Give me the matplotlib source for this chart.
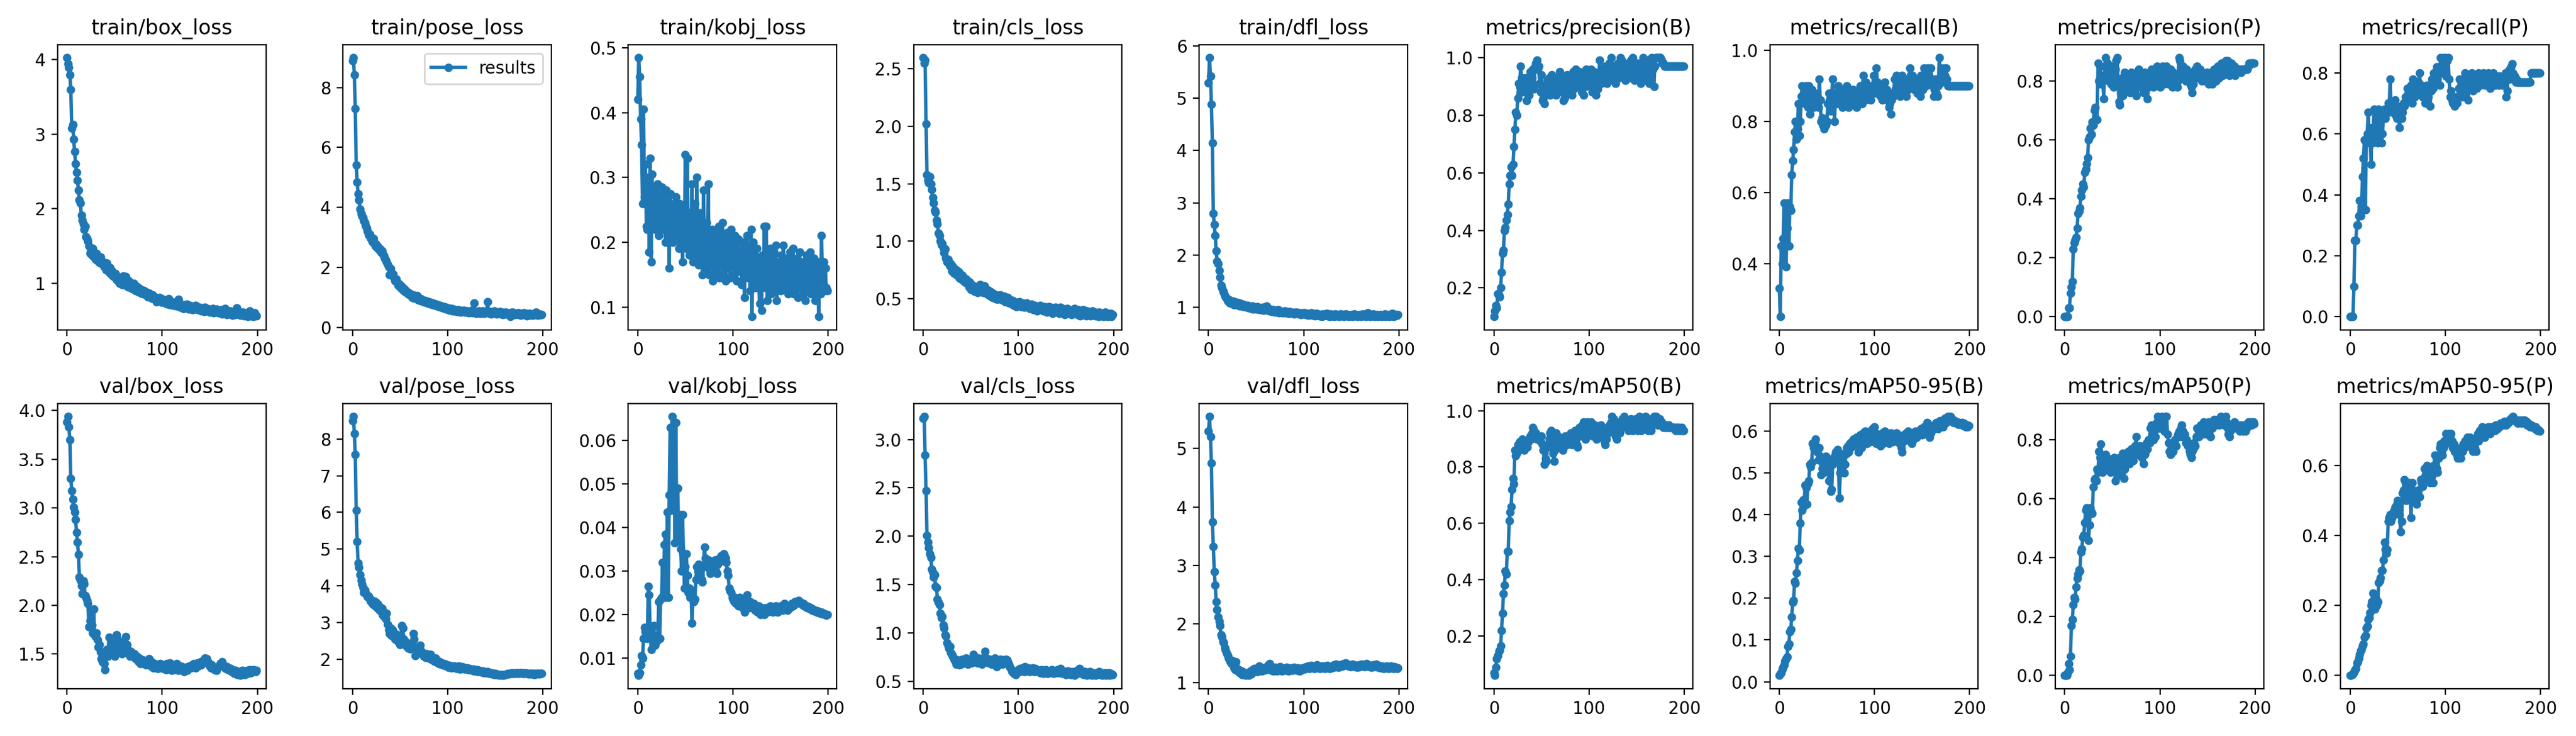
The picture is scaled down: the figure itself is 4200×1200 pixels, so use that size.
import numpy as np
import matplotlib
matplotlib.use("Agg")
import matplotlib.pyplot as plt
from matplotlib.ticker import MultipleLocator

# valores (200 epocas por serie)
train_box_loss = [
    4.03, 3.95, 3.90, 3.80, 3.60, 3.08, 3.13, 2.93, 2.77, 2.60, 2.49, 2.38, 2.25, 2.12, 2.08, 1.91, 1.85, 1.80, 1.72, 1.76,
    1.62, 1.60, 1.57, 1.50, 1.40, 1.43, 1.38, 1.47, 1.35, 1.37, 1.32, 1.40, 1.30, 1.33, 1.28, 1.35, 1.27, 1.25, 1.29, 1.22,
    1.24, 1.18, 1.27, 1.20, 1.15, 1.21, 1.12, 1.17, 1.10, 1.14, 1.08, 1.13, 1.05, 1.09, 1.02, 1.00, 1.07, 1.04, 0.98, 1.10,
    1.02, 0.97, 1.09, 0.99, 0.95, 1.03, 0.96, 0.94, 0.99, 0.92, 1.00, 0.93, 0.90, 0.96, 0.91, 0.88, 0.93, 0.89, 0.87, 0.91,
    0.86, 0.90, 0.85, 0.88, 0.84, 0.82, 0.87, 0.83, 0.85, 0.80, 0.84, 0.79, 0.82, 0.78, 0.75, 0.80, 0.77, 0.81, 0.76, 0.79,
    0.74, 0.78, 0.75, 0.77, 0.73, 0.76, 0.72, 0.79, 0.74, 0.71, 0.75, 0.73, 0.70, 0.74, 0.72, 0.69, 0.73, 0.78, 0.71, 0.68,
    0.72, 0.69, 0.66, 0.71, 0.70, 0.67, 0.72, 0.68, 0.65, 0.70, 0.67, 0.69, 0.64, 0.68, 0.66, 0.70, 0.65, 0.67, 0.64, 0.68,
    0.66, 0.63, 0.67, 0.65, 0.62, 0.68, 0.64, 0.66, 0.63, 0.65, 0.61, 0.64, 0.62, 0.66, 0.60, 0.63, 0.61, 0.65, 0.62, 0.60,
    0.63, 0.61, 0.64, 0.59, 0.62, 0.60, 0.66, 0.61, 0.58, 0.62, 0.60, 0.63, 0.59, 0.61, 0.57, 0.62, 0.60, 0.58, 0.67, 0.60,
    0.59, 0.62, 0.57, 0.60, 0.58, 0.61, 0.56, 0.59, 0.57, 0.60, 0.55, 0.58, 0.63, 0.56, 0.59, 0.57, 0.55, 0.60, 0.57, 0.56]

train_pose_loss = [
    8.90, 9.00, 8.42, 7.30, 5.42, 4.85, 4.45, 4.25, 3.95, 3.80, 3.72, 3.65, 3.55, 3.48, 3.38, 3.30, 3.20, 3.08, 3.10, 2.98,
    2.92, 2.85, 2.95, 2.80, 2.72, 2.78, 2.65, 2.70, 2.58, 2.62, 2.50, 2.55, 2.45, 2.38, 2.30, 2.25, 2.18, 2.10, 2.02, 1.75,
    1.95, 1.80, 1.72, 1.78, 1.62, 1.55, 1.60, 1.48, 1.40, 1.45, 1.35, 1.38, 1.28, 1.32, 1.22, 1.25, 1.18, 1.20, 1.12, 1.15,
    1.08, 1.12, 1.05, 1.00, 1.08, 0.98, 1.03, 0.95, 1.05, 0.92, 0.98, 0.90, 0.95, 0.88, 0.92, 0.85, 0.90, 0.82, 0.87, 0.80,
    0.84, 0.78, 0.82, 0.76, 0.80, 0.74, 0.79, 0.72, 0.77, 0.70, 0.75, 0.68, 0.73, 0.66, 0.71, 0.64, 0.69, 0.62, 0.67, 0.60,
    0.65, 0.58, 0.63, 0.57, 0.62, 0.55, 0.60, 0.54, 0.59, 0.56, 0.52, 0.58, 0.53, 0.57, 0.50, 0.55, 0.52, 0.56, 0.50, 0.54,
    0.51, 0.55, 0.49, 0.53, 0.50, 0.56, 0.48, 0.52, 0.80, 0.50, 0.47, 0.53, 0.49, 0.55, 0.46, 0.52, 0.48, 0.54, 0.47, 0.51,
    0.49, 0.53, 0.86, 0.50, 0.47, 0.52, 0.45, 0.50, 0.48, 0.54, 0.46, 0.51, 0.44, 0.49, 0.47, 0.52, 0.45, 0.50, 0.43, 0.48,
    0.46, 0.51, 0.44, 0.49, 0.42, 0.47, 0.35, 0.45, 0.50, 0.43, 0.48, 0.41, 0.46, 0.44, 0.49, 0.42, 0.47, 0.40, 0.45, 0.43,
    0.48, 0.41, 0.46, 0.38, 0.44, 0.42, 0.47, 0.40, 0.45, 0.43, 0.39, 0.46, 0.41, 0.50, 0.44, 0.40, 0.45, 0.42, 0.43, 0.41]

train_kobj_loss = [
    0.42, 0.485, 0.455, 0.39, 0.35, 0.26, 0.405, 0.27, 0.32, 0.225, 0.22, 0.30, 0.185, 0.33, 0.17, 0.305, 0.24, 0.285, 0.22, 0.27,
    0.235, 0.29, 0.21, 0.265, 0.245, 0.285, 0.22, 0.27, 0.25, 0.20, 0.28, 0.23, 0.26, 0.16, 0.275, 0.215, 0.25, 0.20, 0.26, 0.225,
    0.27, 0.21, 0.245, 0.19, 0.26, 0.20, 0.235, 0.17, 0.25, 0.21, 0.335, 0.19, 0.33, 0.22, 0.18, 0.245, 0.20, 0.29, 0.17, 0.24,
    0.26, 0.18, 0.30, 0.21, 0.165, 0.245, 0.19, 0.225, 0.15, 0.28, 0.20, 0.16, 0.23, 0.175, 0.29, 0.15, 0.21, 0.17, 0.22, 0.14,
    0.20, 0.16, 0.215, 0.15, 0.19, 0.225, 0.145, 0.20, 0.165, 0.23, 0.15, 0.205, 0.14, 0.185, 0.215, 0.16, 0.20, 0.145, 0.22, 0.17,
    0.195, 0.15, 0.21, 0.165, 0.14, 0.185, 0.205, 0.155, 0.18, 0.135, 0.20, 0.17, 0.115, 0.19, 0.16, 0.21, 0.145, 0.18, 0.125, 0.22,
    0.085, 0.20, 0.15, 0.175, 0.13, 0.19, 0.16, 0.14, 0.105, 0.17, 0.095, 0.18, 0.15, 0.225, 0.13, 0.225, 0.11, 0.165, 0.14, 0.19,
    0.12, 0.17, 0.15, 0.185, 0.13, 0.195, 0.11, 0.16, 0.145, 0.17, 0.125, 0.18, 0.15, 0.195, 0.13, 0.165, 0.14, 0.175, 0.12, 0.16,
    0.185, 0.13, 0.155, 0.19, 0.12, 0.165, 0.14, 0.175, 0.115, 0.16, 0.185, 0.13, 0.15, 0.17, 0.12, 0.16, 0.11, 0.18, 0.14, 0.165,
    0.13, 0.185, 0.12, 0.16, 0.14, 0.175, 0.11, 0.155, 0.135, 0.17, 0.085, 0.15, 0.12, 0.21, 0.14, 0.17, 0.125, 0.16, 0.13, 0.125]

train_cls_loss = [
    2.60, 2.55, 2.58, 2.02, 1.58, 1.53, 1.51, 1.56, 1.50, 1.45, 1.38, 1.33, 1.27, 1.25, 1.18, 1.15, 1.07, 1.05, 1.00, 0.97,
    0.98, 0.94, 0.90, 0.93, 0.85, 0.82, 0.84, 0.80, 0.78, 0.80, 0.74, 0.78, 0.72, 0.76, 0.71, 0.75, 0.70, 0.73, 0.68, 0.71,
    0.67, 0.70, 0.66, 0.68, 0.64, 0.67, 0.63, 0.65, 0.60, 0.64, 0.58, 0.62, 0.59, 0.61, 0.56, 0.60, 0.57, 0.55, 0.59, 0.56,
    0.62, 0.57, 0.60, 0.55, 0.61, 0.56, 0.58, 0.54, 0.57, 0.53, 0.56, 0.52, 0.55, 0.51, 0.54, 0.52, 0.50, 0.53, 0.49, 0.52,
    0.50, 0.53, 0.49, 0.51, 0.48, 0.52, 0.47, 0.50, 0.48, 0.51, 0.46, 0.49, 0.47, 0.45, 0.48, 0.44, 0.47, 0.45, 0.43, 0.46,
    0.44, 0.47, 0.45, 0.43, 0.46, 0.44, 0.42, 0.45, 0.43, 0.46, 0.42, 0.44, 0.41, 0.43, 0.45, 0.42, 0.40, 0.44, 0.41, 0.43,
    0.39, 0.43, 0.41, 0.44, 0.40, 0.42, 0.39, 0.43, 0.40, 0.42, 0.38, 0.41, 0.43, 0.39, 0.42, 0.40, 0.37, 0.41, 0.39, 0.42,
    0.38, 0.41, 0.40, 0.37, 0.42, 0.39, 0.41, 0.38, 0.40, 0.36, 0.39, 0.41, 0.38, 0.40, 0.37, 0.39, 0.36, 0.40, 0.38, 0.41,
    0.37, 0.39, 0.36, 0.40, 0.38, 0.35, 0.39, 0.37, 0.40, 0.36, 0.38, 0.35, 0.39, 0.37, 0.36, 0.38, 0.35, 0.37, 0.39, 0.36,
    0.38, 0.35, 0.37, 0.36, 0.34, 0.38, 0.36, 0.35, 0.37, 0.34, 0.36, 0.38, 0.35, 0.37, 0.34, 0.36, 0.35, 0.37, 0.34, 0.36]

train_dfl_loss = [
    5.30, 5.78, 5.42, 4.88, 4.15, 2.80, 2.58, 2.38, 2.08, 1.88, 1.83, 1.70, 1.58, 1.42, 1.38, 1.32, 1.28, 1.22, 1.20, 1.16,
    1.12, 1.15, 1.08, 1.13, 1.10, 1.07, 1.12, 1.05, 1.09, 1.06, 1.10, 1.04, 1.08, 1.03, 1.07, 1.02, 1.06, 1.01, 1.05, 1.03,
    1.00, 1.04, 0.99, 1.03, 1.01, 0.98, 1.02, 0.97, 1.00, 0.99, 0.96, 1.01, 0.97, 0.99, 0.95, 0.98, 0.96, 1.00, 0.94, 0.97,
    0.95, 1.03, 0.94, 0.97, 0.93, 0.96, 0.94, 0.92, 0.95, 0.93, 0.91, 0.94, 0.92, 0.95, 0.90, 0.93, 0.91, 0.89, 0.92, 0.90,
    0.93, 0.89, 0.91, 0.90, 0.88, 0.92, 0.89, 0.91, 0.88, 0.90, 0.87, 0.89, 0.91, 0.88, 0.90, 0.87, 0.89, 0.86, 0.88, 0.90,
    0.87, 0.89, 0.86, 0.88, 0.87, 0.85, 0.88, 0.86, 0.89, 0.85, 0.87, 0.86, 0.84, 0.88, 0.85, 0.87, 0.84, 0.86, 0.85, 0.83,
    0.87, 0.84, 0.86, 0.85, 0.88, 0.84, 0.86, 0.83, 0.87, 0.85, 0.84, 0.86, 0.83, 0.87, 0.85, 0.84, 0.86, 0.83, 0.85, 0.87,
    0.84, 0.86, 0.83, 0.85, 0.87, 0.84, 0.86, 0.83, 0.85, 0.84, 0.86, 0.82, 0.85, 0.87, 0.84, 0.86, 0.83, 0.85, 0.84, 0.86,
    0.83, 0.85, 0.87, 0.84, 0.86, 0.83, 0.85, 0.89, 0.84, 0.86, 0.83, 0.85, 0.84, 0.87, 0.83, 0.85, 0.84, 0.86, 0.83, 0.85,
    0.84, 0.86, 0.83, 0.85, 0.84, 0.87, 0.83, 0.85, 0.84, 0.86, 0.83, 0.85, 0.84, 0.88, 0.83, 0.85, 0.84, 0.86, 0.85, 0.86]

precision_b = [
    0.10, 0.12, 0.14, 0.13, 0.18, 0.175, 0.17, 0.20, 0.255, 0.32, 0.33, 0.40, 0.41, 0.435, 0.455, 0.49, 0.56, 0.59, 0.62, 0.59,
    0.63, 0.69, 0.75, 0.81, 0.80, 0.86, 0.91, 0.90, 0.97, 0.93, 0.88, 0.91, 0.90, 0.93, 0.85, 0.88, 0.92, 0.87, 0.95, 0.90,
    0.93, 0.96, 0.89, 0.97, 0.98, 0.99, 0.96, 0.97, 0.91, 0.88, 0.94, 0.85, 0.86, 0.84, 0.90, 0.88, 0.92, 0.89, 0.93, 0.87,
    0.91, 0.94, 0.88, 0.90, 0.92, 0.87, 0.93, 0.89, 0.91, 0.95, 0.90, 0.88, 0.93, 0.85, 0.86, 0.91, 0.89, 0.94, 0.88, 0.92,
    0.90, 0.93, 0.87, 0.95, 0.89, 0.92, 0.96, 0.90, 0.94, 0.91, 0.95, 0.93, 0.88, 0.92, 0.87, 0.94, 0.90, 0.96, 0.92, 0.95,
    0.93, 0.90, 0.96, 0.88, 0.92, 0.95, 0.91, 0.87, 0.94, 0.89, 0.92, 0.99, 0.95, 0.91, 0.96, 0.93, 0.92, 0.97, 0.94, 0.91,
    0.95, 0.98, 0.92, 1.00, 0.94, 0.97, 0.93, 0.96, 0.91, 0.95, 0.98, 0.93, 0.96, 1.00, 0.99, 0.96, 0.94, 0.98, 0.92, 0.96,
    0.94, 0.97, 0.93, 0.95, 0.99, 0.96, 1.00, 0.94, 0.92, 0.97, 0.95, 0.98, 0.96, 0.93, 0.91, 0.96, 0.97, 1.00, 0.95, 0.92,
    0.97, 0.99, 0.96, 0.91, 0.94, 0.92, 1.00, 0.96, 0.90, 0.97, 1.00, 1.00, 1.00, 1.00, 1.00, 1.00, 0.99, 0.98, 0.98, 0.97,
    0.97, 0.97, 0.97, 0.97, 0.97, 0.97, 0.97, 0.97, 0.97, 0.97, 0.97, 0.97, 0.97, 0.97, 0.97, 0.97, 0.97, 0.97, 0.97, 0.97]

recall_b = [
    0.33, 0.25, 0.45, 0.40, 0.47, 0.57, 0.45, 0.39, 0.50, 0.57, 0.45, 0.56, 0.55, 0.65, 0.69, 0.72, 0.77, 0.80, 0.75, 0.78,
    0.85, 0.76, 0.80, 0.87, 0.90, 0.86, 0.88, 0.85, 0.90, 0.87, 0.84, 0.90, 0.82, 0.86, 0.89, 0.85, 0.84, 0.88, 0.86, 0.85,
    0.87, 0.84, 0.92, 0.86, 0.80, 0.81, 0.79, 0.78, 0.80, 0.79, 0.80, 0.85, 0.88, 0.86, 0.83, 0.87, 0.92, 0.86, 0.80, 0.88,
    0.85, 0.87, 0.90, 0.85, 0.88, 0.86, 0.84, 0.89, 0.87, 0.85, 0.88, 0.90, 0.86, 0.84, 0.88, 0.87, 0.85, 0.89, 0.86, 0.88,
    0.87, 0.84, 0.88, 0.86, 0.89, 0.90, 0.87, 0.85, 0.93, 0.88, 0.86, 0.91, 0.89, 0.87, 0.90, 0.88, 0.86, 0.90, 0.89, 0.93,
    0.90, 0.88, 0.95, 0.91, 0.89, 0.90, 0.87, 0.89, 0.86, 0.90, 0.88, 0.91, 0.87, 0.89, 0.86, 0.84, 0.85, 0.82, 0.86, 0.88,
    0.87, 0.92, 0.89, 0.93, 0.90, 0.88, 0.92, 0.87, 0.89, 0.93, 0.91, 0.88, 0.90, 0.87, 0.92, 0.89, 0.91, 0.95, 0.93, 0.90,
    0.93, 0.91, 0.89, 0.92, 0.90, 0.88, 0.92, 0.90, 0.87, 0.93, 0.91, 0.89, 0.95, 0.93, 0.90, 0.92, 0.95, 0.93, 0.91, 0.95,
    0.92, 0.90, 0.87, 0.89, 0.92, 0.88, 0.87, 0.90, 0.98, 0.92, 0.95, 0.91, 0.94, 0.95, 0.93, 0.95, 0.92, 0.90, 0.90, 0.90,
    0.90, 0.90, 0.90, 0.90, 0.90, 0.90, 0.90, 0.90, 0.90, 0.90, 0.90, 0.90, 0.90, 0.90, 0.90, 0.90, 0.90, 0.90, 0.90, 0.90]

precision_p = [
    0.00, 0.00, 0.00, 0.00, 0.03, 0.03, 0.08, 0.10, 0.12, 0.23, 0.25, 0.26, 0.27, 0.30, 0.35, 0.36, 0.37, 0.41, 0.43, 0.45,
    0.44, 0.49, 0.50, 0.52, 0.54, 0.60, 0.61, 0.64, 0.62, 0.66, 0.65, 0.70, 0.71, 0.67, 0.67, 0.86, 0.80, 0.85, 0.79, 0.82,
    0.80, 0.74, 0.85, 0.88, 0.82, 0.86, 0.80, 0.84, 0.85, 0.79, 0.82, 0.78, 0.80, 0.84, 0.87, 0.88, 0.80, 0.73, 0.72, 0.76,
    0.81, 0.75, 0.79, 0.83, 0.77, 0.80, 0.82, 0.78, 0.81, 0.76, 0.83, 0.82, 0.79, 0.81, 0.77, 0.75, 0.80, 0.82, 0.84, 0.79,
    0.82, 0.78, 0.80, 0.76, 0.83, 0.81, 0.79, 0.74, 0.78, 0.82, 0.80, 0.84, 0.81, 0.78, 0.82, 0.83, 0.79, 0.85, 0.80, 0.82,
    0.78, 0.84, 0.81, 0.85, 0.79, 0.83, 0.80, 0.85, 0.82, 0.79, 0.81, 0.84, 0.80, 0.78, 0.83, 0.81, 0.79, 0.82, 0.78, 0.80,
    0.88, 0.87, 0.84, 0.82, 0.85, 0.81, 0.83, 0.80, 0.84, 0.82, 0.81, 0.83, 0.79, 0.78, 0.76, 0.79, 0.82, 0.84, 0.81, 0.85,
    0.83, 0.81, 0.84, 0.82, 0.80, 0.83, 0.81, 0.82, 0.80, 0.83, 0.81, 0.79, 0.82, 0.80, 0.83, 0.79, 0.81, 0.84, 0.82, 0.80,
    0.82, 0.85, 0.81, 0.83, 0.84, 0.86, 0.82, 0.85, 0.83, 0.87, 0.84, 0.87, 0.85, 0.82, 0.84, 0.86, 0.83, 0.84, 0.85, 0.82,
    0.84, 0.84, 0.84, 0.84, 0.84, 0.83, 0.84, 0.84, 0.84, 0.84, 0.84, 0.84, 0.84, 0.85, 0.86, 0.86, 0.86, 0.86, 0.86, 0.86]

recall_p = [
    0.00, 0.00, 0.00, 0.00, 0.10, 0.25, 0.25, 0.30, 0.30, 0.33, 0.38, 0.33, 0.36, 0.46, 0.52, 0.58, 0.35, 0.57, 0.60, 0.67,
    0.57, 0.58, 0.50, 0.62, 0.57, 0.68, 0.58, 0.63, 0.66, 0.57, 0.68, 0.61, 0.67, 0.57, 0.60, 0.66, 0.68, 0.65, 0.67, 0.68,
    0.70, 0.67, 0.78, 0.68, 0.70, 0.67, 0.69, 0.71, 0.66, 0.65, 0.69, 0.66, 0.62, 0.68, 0.65, 0.67, 0.70, 0.69, 0.72, 0.70,
    0.75, 0.73, 0.71, 0.74, 0.76, 0.70, 0.78, 0.74, 0.72, 0.76, 0.75, 0.73, 0.77, 0.80, 0.74, 0.76, 0.72, 0.75, 0.73, 0.70,
    0.74, 0.76, 0.72, 0.75, 0.69, 0.74, 0.78, 0.75, 0.80, 0.77, 0.79, 0.82, 0.78, 0.80, 0.76, 0.85, 0.80, 0.83, 0.85, 0.81,
    0.85, 0.79, 0.84, 0.85, 0.78, 0.72, 0.74, 0.71, 0.70, 0.72, 0.69, 0.71, 0.70, 0.72, 0.75, 0.78, 0.74, 0.77, 0.72, 0.75,
    0.78, 0.80, 0.74, 0.76, 0.71, 0.75, 0.78, 0.77, 0.80, 0.74, 0.78, 0.76, 0.79, 0.75, 0.77, 0.80, 0.78, 0.76, 0.79, 0.77,
    0.80, 0.78, 0.76, 0.79, 0.77, 0.80, 0.78, 0.75, 0.79, 0.77, 0.80, 0.78, 0.76, 0.79, 0.77, 0.78, 0.76, 0.79, 0.77, 0.78,
    0.76, 0.79, 0.77, 0.80, 0.72, 0.74, 0.79, 0.81, 0.78, 0.82, 0.83, 0.80, 0.78, 0.79, 0.77, 0.78, 0.77, 0.77, 0.77, 0.77,
    0.77, 0.77, 0.77, 0.77, 0.77, 0.77, 0.77, 0.77, 0.77, 0.77, 0.80, 0.80, 0.80, 0.80, 0.80, 0.80, 0.80, 0.80, 0.80, 0.80]

val_box_loss = [
    3.88, 3.94, 3.83, 3.70, 3.30, 3.18, 3.09, 3.01, 2.96, 2.88, 2.75, 2.65, 2.52, 2.29, 2.26, 2.20, 2.12, 2.25, 2.22, 2.10,
    2.08, 2.05, 2.02, 1.78, 1.84, 1.95, 1.80, 1.72, 1.96, 1.70, 1.68, 1.72, 1.65, 1.57, 1.60, 1.52, 1.45, 1.42, 1.48, 1.40,
    1.34, 1.50, 1.55, 1.48, 1.67, 1.52, 1.58, 1.50, 1.62, 1.55, 1.48, 1.53, 1.70, 1.65, 1.57, 1.60, 1.52, 1.55, 1.50, 1.62,
    1.58, 1.52, 1.68, 1.60, 1.54, 1.50, 1.48, 1.53, 1.49, 1.51, 1.47, 1.50, 1.45, 1.48, 1.44, 1.42, 1.46, 1.40, 1.43, 1.41,
    1.44, 1.40, 1.42, 1.39, 1.43, 1.41, 1.45, 1.40, 1.38, 1.42, 1.39, 1.36, 1.40, 1.37, 1.39, 1.35, 1.38, 1.36, 1.40, 1.37,
    1.38, 1.35, 1.39, 1.36, 1.34, 1.40, 1.37, 1.35, 1.41, 1.36, 1.33, 1.38, 1.35, 1.37, 1.34, 1.40, 1.36, 1.33, 1.35, 1.38,
    1.34, 1.37, 1.35, 1.32, 1.36, 1.34, 1.33, 1.37, 1.35, 1.38, 1.36, 1.39, 1.37, 1.40, 1.38, 1.36, 1.39, 1.41, 1.38, 1.40,
    1.42, 1.39, 1.43, 1.41, 1.44, 1.46, 1.43, 1.45, 1.42, 1.40, 1.38, 1.36, 1.39, 1.37, 1.35, 1.34, 1.36, 1.33, 1.35, 1.37,
    1.38, 1.40, 1.41, 1.42, 1.39, 1.38, 1.36, 1.35, 1.37, 1.34, 1.36, 1.33, 1.35, 1.32, 1.34, 1.31, 1.30, 1.33, 1.31, 1.29,
    1.32, 1.30, 1.28, 1.31, 1.33, 1.30, 1.32, 1.29, 1.31, 1.33, 1.30, 1.32, 1.34, 1.31, 1.33, 1.32, 1.34, 1.33, 1.32, 1.33]

val_pose_loss = [
    8.50, 8.62, 8.15, 7.58, 6.05, 5.20, 4.62, 4.50, 4.30, 4.15, 4.05, 3.95, 3.82, 3.88, 3.80, 3.75, 3.70, 3.72, 3.65, 3.58,
    3.60, 3.52, 3.48, 3.58, 3.45, 3.55, 3.40, 3.50, 3.35, 3.42, 3.30, 3.38, 3.20, 3.28, 3.15, 3.10, 3.25, 2.95, 2.80, 2.70,
    2.85, 2.65, 2.80, 2.72, 2.60, 2.55, 2.68, 2.50, 2.58, 2.45, 2.40, 2.50, 2.92, 2.85, 2.55, 2.42, 2.48, 2.35, 2.38, 2.30,
    2.40, 2.28, 2.35, 2.45, 2.70, 2.55, 2.10, 2.15, 2.25, 2.20, 2.30, 2.38, 2.22, 2.15, 2.18, 2.08, 2.12, 2.05, 2.15, 2.10,
    2.02, 2.08, 2.12, 2.00, 2.05, 1.98, 1.95, 2.02, 1.92, 1.96, 1.90, 1.88, 1.93, 1.86, 1.90, 1.84, 1.87, 1.82, 1.85, 1.80,
    1.83, 1.78, 1.82, 1.79, 1.76, 1.80, 1.77, 1.81, 1.75, 1.78, 1.74, 1.77, 1.80, 1.73, 1.76, 1.79, 1.74, 1.77, 1.72, 1.75,
    1.73, 1.76, 1.71, 1.74, 1.70, 1.73, 1.69, 1.72, 1.68, 1.71, 1.67, 1.70, 1.66, 1.69, 1.65, 1.68, 1.64, 1.67, 1.63, 1.66,
    1.64, 1.62, 1.65, 1.61, 1.63, 1.60, 1.62, 1.59, 1.61, 1.58, 1.60, 1.57, 1.59, 1.58, 1.56, 1.58, 1.57, 1.55, 1.58, 1.56,
    1.57, 1.58, 1.59, 1.60, 1.59, 1.61, 1.60, 1.61, 1.62, 1.60, 1.61, 1.62, 1.61, 1.63, 1.62, 1.61, 1.62, 1.63, 1.61, 1.62,
    1.61, 1.60, 1.62, 1.61, 1.60, 1.59, 1.61, 1.60, 1.59, 1.61, 1.60, 1.58, 1.60, 1.59, 1.61, 1.60, 1.59, 1.60, 1.61, 1.60]

val_kobj_loss = [
    0.0065, 0.0060, 0.0066, 0.0085, 0.0105, 0.0100, 0.0145, 0.0170, 0.0160, 0.0150,
    0.0145, 0.0265, 0.0245, 0.0160, 0.0120, 0.0155, 0.0140, 0.0175, 0.0130, 0.0150,
    0.0140, 0.0145, 0.0230, 0.0145, 0.0235, 0.0240, 0.0320, 0.0240, 0.0360, 0.0385,
    0.0240, 0.0435, 0.0240, 0.0475, 0.0630, 0.0440, 0.0655, 0.0480, 0.0640, 0.0365,
    0.0640, 0.0370, 0.0490, 0.0375, 0.0430, 0.0350, 0.0300, 0.0430, 0.0340, 0.0260,
    0.0310, 0.0340, 0.0290, 0.0250, 0.0260, 0.0240, 0.0250, 0.0180, 0.0240, 0.0230,
    0.0235, 0.0280, 0.0310, 0.0300, 0.0315, 0.0305, 0.0290, 0.0280, 0.0275, 0.0310,
    0.0355, 0.0330, 0.0310, 0.0320, 0.0325, 0.0305, 0.0295, 0.0310, 0.0320, 0.0300,
    0.0310, 0.0325, 0.0300, 0.0295, 0.0315, 0.0320, 0.0330, 0.0325, 0.0335, 0.0330,
    0.0340, 0.0335, 0.0330, 0.0320, 0.0300, 0.0290, 0.0260, 0.0255, 0.0250, 0.0240,
    0.0235, 0.0230, 0.0240, 0.0225, 0.0235, 0.0230, 0.0220, 0.0240, 0.0225, 0.0235,
    0.0215, 0.0230, 0.0205, 0.0220, 0.0230, 0.0245, 0.0225, 0.0215, 0.0230, 0.0225,
    0.0220, 0.0215, 0.0225, 0.0210, 0.0220, 0.0215, 0.0205, 0.0220, 0.0210, 0.0200,
    0.0215, 0.0205, 0.0210, 0.0200, 0.0215, 0.0210, 0.0205, 0.0215, 0.0210, 0.0220,
    0.0215, 0.0210, 0.0205, 0.0210, 0.0215, 0.0220, 0.0210, 0.0205, 0.0215, 0.0210,
    0.0220, 0.0215, 0.0210, 0.0220, 0.0225, 0.0215, 0.0220, 0.0210, 0.0215, 0.0220,
    0.0215, 0.0220, 0.0225, 0.0220, 0.0225, 0.0230, 0.0225, 0.0230, 0.0228, 0.0232,
    0.0230, 0.0228, 0.0225, 0.0222, 0.0225, 0.0220, 0.0218, 0.0220, 0.0215, 0.0218,
    0.0215, 0.0212, 0.0215, 0.0210, 0.0212, 0.0208, 0.0210, 0.0207, 0.0205, 0.0208,
    0.0204, 0.0206, 0.0203, 0.0205, 0.0202, 0.0203, 0.0201, 0.0200, 0.0199, 0.0200]

val_cls_loss = [
    3.22, 3.24, 2.84, 2.47, 2.01, 1.94, 1.88, 1.82, 1.78, 1.66, 1.63, 1.58, 1.60, 1.48, 1.47, 1.35, 1.32, 1.29, 1.20, 1.16,
    1.17, 1.08, 1.05, 0.98, 0.97, 0.90, 0.87, 0.84, 0.86, 0.80, 0.78, 0.76, 0.74, 0.72, 0.70, 0.68, 0.72, 0.69, 0.67, 0.71,
    0.68, 0.73, 0.70, 0.72, 0.69, 0.74, 0.71, 0.68, 0.72, 0.70, 0.73, 0.69, 0.71, 0.78, 0.75, 0.70, 0.72, 0.69, 0.74, 0.71,
    0.70, 0.73, 0.68, 0.72, 0.75, 0.81, 0.74, 0.70, 0.72, 0.69, 0.73, 0.71, 0.68, 0.72, 0.70, 0.74, 0.67, 0.65, 0.70, 0.72,
    0.69, 0.73, 0.70, 0.68, 0.72, 0.71, 0.69, 0.73, 0.72, 0.70, 0.68, 0.65, 0.63, 0.60, 0.61, 0.58, 0.59, 0.57, 0.58, 0.60,
    0.62, 0.60, 0.63, 0.61, 0.64, 0.62, 0.60, 0.65, 0.63, 0.61, 0.64, 0.62, 0.60, 0.63, 0.61, 0.64, 0.62, 0.60, 0.63, 0.61,
    0.62, 0.60, 0.61, 0.59, 0.62, 0.60, 0.58, 0.61, 0.59, 0.62, 0.60, 0.58, 0.61, 0.59, 0.60, 0.62, 0.60, 0.58, 0.61, 0.59,
    0.60, 0.62, 0.59, 0.61, 0.63, 0.60, 0.58, 0.61, 0.59, 0.60, 0.57, 0.59, 0.61, 0.58, 0.60, 0.57, 0.59, 0.58, 0.60, 0.56,
    0.59, 0.61, 0.58, 0.62, 0.63, 0.60, 0.58, 0.61, 0.59, 0.57, 0.60, 0.58, 0.56, 0.59, 0.57, 0.60, 0.58, 0.56, 0.59, 0.57,
    0.58, 0.56, 0.59, 0.57, 0.58, 0.60, 0.57, 0.59, 0.56, 0.58, 0.57, 0.59, 0.56, 0.58, 0.57, 0.59, 0.56, 0.58, 0.57, 0.57]

val_dfl_loss = [
    5.30, 5.55, 5.20, 4.75, 3.75, 3.33, 2.90, 2.67, 2.38, 2.25, 2.12, 2.05, 1.97, 1.82, 1.78, 1.70, 1.68, 1.60, 1.55, 1.50,
    1.46, 1.42, 1.38, 1.35, 1.32, 1.38, 1.30, 1.25, 1.22, 1.36, 1.24, 1.20, 1.18, 1.21, 1.16, 1.14, 1.19, 1.13, 1.15, 1.12,
    1.17, 1.14, 1.12, 1.16, 1.20, 1.15, 1.22, 1.18, 1.24, 1.20, 1.23, 1.19, 1.25, 1.28, 1.22, 1.26, 1.20, 1.24, 1.21, 1.25,
    1.22, 1.27, 1.24, 1.30, 1.32, 1.25, 1.21, 1.24, 1.20, 1.23, 1.26, 1.22, 1.20, 1.24, 1.21, 1.27, 1.23, 1.20, 1.25, 1.22,
    1.24, 1.21, 1.26, 1.23, 1.20, 1.24, 1.22, 1.25, 1.21, 1.23, 1.26, 1.22, 1.24, 1.21, 1.25, 1.23, 1.20, 1.24, 1.22, 1.25,
    1.23, 1.26, 1.24, 1.27, 1.25, 1.28, 1.24, 1.26, 1.29, 1.25, 1.27, 1.24, 1.28, 1.26, 1.30, 1.25, 1.27, 1.24, 1.28, 1.26,
    1.25, 1.28, 1.24, 1.27, 1.25, 1.29, 1.26, 1.24, 1.27, 1.25, 1.28, 1.26, 1.30, 1.27, 1.31, 1.28, 1.26, 1.30, 1.27, 1.29,
    1.31, 1.28, 1.32, 1.30, 1.33, 1.29, 1.31, 1.28, 1.30, 1.27, 1.29, 1.31, 1.28, 1.30, 1.27, 1.29, 1.26, 1.28, 1.30, 1.27,
    1.29, 1.31, 1.28, 1.30, 1.27, 1.29, 1.32, 1.28, 1.30, 1.27, 1.29, 1.26, 1.28, 1.30, 1.27, 1.29, 1.31, 1.28, 1.26, 1.29,
    1.27, 1.25, 1.28, 1.26, 1.24, 1.27, 1.25, 1.28, 1.26, 1.24, 1.27, 1.25, 1.28, 1.26, 1.24, 1.27, 1.25, 1.26, 1.24, 1.25]

map50_b = [
    0.07, 0.06, 0.09, 0.12, 0.13, 0.145, 0.15, 0.165, 0.22, 0.28, 0.35, 0.38, 0.43, 0.42, 0.50, 0.50, 0.61, 0.64, 0.66, 0.72,
    0.76, 0.74, 0.86, 0.84, 0.85, 0.88, 0.86, 0.89, 0.87, 0.88, 0.90, 0.87, 0.86, 0.88, 0.87, 0.87, 0.89, 0.90, 0.91, 0.90,
    0.92, 0.94, 0.93, 0.91, 0.92, 0.90, 0.91, 0.91, 0.90, 0.89, 0.91, 0.88, 0.86, 0.81, 0.83, 0.82, 0.87, 0.88, 0.90, 0.92,
    0.93, 0.89, 0.85, 0.82, 0.86, 0.92, 0.90, 0.91, 0.88, 0.87, 0.90, 0.88, 0.86, 0.87, 0.89, 0.91, 0.90, 0.88, 0.91, 0.89,
    0.90, 0.92, 0.88, 0.91, 0.89, 0.93, 0.90, 0.88, 0.87, 0.92, 0.94, 0.91, 0.93, 0.95, 0.96, 0.92, 0.90, 0.94, 0.96, 0.93,
    0.95, 0.92, 0.96, 0.94, 0.91, 0.93, 0.95, 0.92, 0.90, 0.94, 0.93, 0.91, 0.95, 0.92, 0.94, 0.91, 0.89, 0.88, 0.90, 0.93,
    0.92, 0.95, 0.94, 0.96, 0.98, 0.95, 0.97, 0.93, 0.91, 0.90, 0.93, 0.95, 0.92, 0.96, 0.94, 0.97, 0.95, 0.98, 0.96, 0.94,
    0.95, 0.93, 0.96, 0.94, 0.97, 0.95, 0.93, 0.96, 0.94, 0.97, 0.95, 0.93, 0.96, 0.98, 0.95, 0.93, 0.97, 0.94, 0.96, 0.98,
    0.95, 0.97, 0.93, 0.96, 0.94, 0.93, 0.97, 0.95, 0.98, 0.96, 0.98, 0.97, 0.95, 0.96, 0.97, 0.95, 0.96, 0.95, 0.94, 0.95,
    0.94, 0.95, 0.94, 0.94, 0.95, 0.94, 0.94, 0.94, 0.94, 0.94, 0.94, 0.93, 0.94, 0.94, 0.93, 0.94, 0.93, 0.94, 0.93, 0.93]

map50_95_b = [
    0.015, 0.020, 0.022, 0.030, 0.035, 0.040, 0.050, 0.055, 0.060, 0.085, 0.090, 0.120, 0.125, 0.155, 0.190, 0.195, 0.240, 0.235, 0.260, 0.290,
    0.320, 0.315, 0.380, 0.430, 0.410, 0.435, 0.420, 0.470, 0.465, 0.425, 0.475, 0.480, 0.520, 0.515, 0.525, 0.570, 0.560, 0.575, 0.580, 0.560,
    0.550, 0.530, 0.560, 0.540, 0.495, 0.510, 0.500, 0.530, 0.520, 0.540, 0.535, 0.510, 0.480, 0.500, 0.455, 0.460, 0.520, 0.530, 0.540, 0.550,
    0.545, 0.555, 0.530, 0.440, 0.500, 0.530, 0.520, 0.545, 0.500, 0.520, 0.545, 0.560, 0.565, 0.550, 0.570, 0.560, 0.575, 0.565, 0.580, 0.570,
    0.575, 0.585, 0.570, 0.550, 0.575, 0.590, 0.560, 0.580, 0.595, 0.570, 0.600, 0.585, 0.570, 0.595, 0.580, 0.600, 0.575, 0.590, 0.605, 0.585,
    0.610, 0.595, 0.570, 0.585, 0.575, 0.590, 0.565, 0.580, 0.595, 0.570, 0.585, 0.600, 0.575, 0.590, 0.580, 0.570, 0.585, 0.595, 0.580, 0.590,
    0.575, 0.590, 0.585, 0.595, 0.580, 0.590, 0.570, 0.585, 0.560, 0.550, 0.575, 0.590, 0.580, 0.595, 0.585, 0.600, 0.590, 0.580, 0.575, 0.570,
    0.595, 0.580, 0.590, 0.600, 0.585, 0.595, 0.590, 0.600, 0.595, 0.605, 0.590, 0.600, 0.610, 0.595, 0.605, 0.620, 0.600, 0.590, 0.585, 0.595,
    0.600, 0.610, 0.605, 0.615, 0.610, 0.620, 0.615, 0.605, 0.620, 0.625, 0.615, 0.620, 0.610, 0.625, 0.630, 0.620, 0.625, 0.635, 0.630, 0.625,
    0.635, 0.630, 0.625, 0.620, 0.625, 0.620, 0.618, 0.622, 0.615, 0.620, 0.618, 0.615, 0.620, 0.612, 0.618, 0.615, 0.610, 0.614, 0.610, 0.612]

map50_p = [
    0.000, 0.000, 0.000, 0.010, 0.040, 0.020, 0.065, 0.170, 0.190, 0.240, 0.265, 0.260, 0.300, 0.330, 0.345, 0.360, 0.355, 0.420, 0.430, 0.470,
    0.475, 0.520, 0.560, 0.570, 0.550, 0.460, 0.510, 0.570, 0.555, 0.550, 0.640, 0.665, 0.670, 0.660, 0.700, 0.690, 0.760, 0.740, 0.785, 0.720,
    0.690, 0.740, 0.710, 0.750, 0.720, 0.700, 0.735, 0.710, 0.690, 0.730, 0.700, 0.720, 0.740, 0.660, 0.700, 0.730, 0.720, 0.680, 0.740, 0.710,
    0.730, 0.755, 0.670, 0.700, 0.720, 0.740, 0.730, 0.760, 0.720, 0.750, 0.770, 0.740, 0.730, 0.760, 0.780, 0.810, 0.770, 0.750, 0.760, 0.780,
    0.760, 0.740, 0.770, 0.720, 0.750, 0.760, 0.790, 0.770, 0.800, 0.790, 0.840, 0.850, 0.820, 0.800, 0.830, 0.810, 0.850, 0.860, 0.880, 0.840,
    0.840, 0.860, 0.880, 0.850, 0.870, 0.830, 0.880, 0.880, 0.820, 0.790, 0.760, 0.750, 0.770, 0.780, 0.760, 0.790, 0.800, 0.780, 0.810, 0.820,
    0.830, 0.810, 0.840, 0.850, 0.830, 0.810, 0.820, 0.790, 0.800, 0.780, 0.790, 0.760, 0.750, 0.740, 0.760, 0.770, 0.790, 0.780, 0.810, 0.840,
    0.840, 0.810, 0.830, 0.850, 0.820, 0.840, 0.860, 0.830, 0.850, 0.820, 0.840, 0.860, 0.830, 0.810, 0.850, 0.840, 0.860, 0.870, 0.850, 0.860,
    0.870, 0.860, 0.850, 0.870, 0.880, 0.860, 0.870, 0.850, 0.860, 0.880, 0.860, 0.840, 0.820, 0.810, 0.830, 0.850, 0.840, 0.850, 0.860, 0.840,
    0.850, 0.840, 0.850, 0.840, 0.830, 0.850, 0.840, 0.830, 0.850, 0.840, 0.830, 0.840, 0.850, 0.860, 0.850, 0.860, 0.850, 0.860, 0.860, 0.855]

map50_95_p = [
    0.000, 0.000, 0.002, 0.005, 0.010, 0.015, 0.020, 0.035, 0.040, 0.050, 0.060, 0.070, 0.075, 0.085, 0.090, 0.110, 0.115, 0.135, 0.140, 0.160,
    0.165, 0.180, 0.200, 0.210, 0.235, 0.230, 0.190, 0.220, 0.200, 0.210, 0.265, 0.270, 0.280, 0.300, 0.300, 0.330, 0.380, 0.360, 0.350, 0.360,
    0.440, 0.450, 0.460, 0.440, 0.450, 0.460, 0.470, 0.480, 0.480, 0.490, 0.500, 0.470, 0.460, 0.410, 0.440, 0.520, 0.530, 0.560, 0.550, 0.500,
    0.530, 0.510, 0.550, 0.530, 0.450, 0.550, 0.530, 0.510, 0.520, 0.500, 0.490, 0.520, 0.530, 0.510, 0.560, 0.550, 0.540, 0.560, 0.590, 0.570,
    0.580, 0.600, 0.590, 0.560, 0.550, 0.580, 0.570, 0.550, 0.600, 0.630, 0.600, 0.590, 0.580, 0.620, 0.650, 0.660, 0.640, 0.630, 0.650, 0.670,
    0.660, 0.690, 0.680, 0.670, 0.690, 0.685, 0.690, 0.670, 0.650, 0.660, 0.640, 0.650, 0.630, 0.620, 0.640, 0.630, 0.620, 0.650, 0.640, 0.660,
    0.650, 0.670, 0.660, 0.680, 0.670, 0.660, 0.680, 0.670, 0.650, 0.640, 0.660, 0.650, 0.640, 0.680, 0.690, 0.670, 0.700, 0.690, 0.680, 0.710,
    0.700, 0.680, 0.690, 0.700, 0.690, 0.710, 0.700, 0.690, 0.710, 0.700, 0.705, 0.710, 0.700, 0.715, 0.710, 0.705, 0.715, 0.710, 0.720, 0.715,
    0.720, 0.715, 0.725, 0.720, 0.715, 0.725, 0.720, 0.730, 0.725, 0.735, 0.730, 0.740, 0.735, 0.730, 0.725, 0.730, 0.720, 0.725, 0.730, 0.725,
    0.720, 0.730, 0.725, 0.730, 0.720, 0.725, 0.715, 0.720, 0.715, 0.710, 0.715, 0.710, 0.712, 0.708, 0.705, 0.710, 0.705, 0.700, 0.702, 0.698]

titles = ["train/box_loss", "train/pose_loss", "train/kobj_loss", "train/cls_loss", "train/dfl_loss",
          "metrics/precision(B)", "metrics/recall(B)", "metrics/precision(P)", "metrics/recall(P)",
          "val/box_loss", "val/pose_loss", "val/kobj_loss", "val/cls_loss", "val/dfl_loss",
          "metrics/mAP50(B)", "metrics/mAP50-95(B)", "metrics/mAP50(P)", "metrics/mAP50-95(P)"]

series = [train_box_loss, train_pose_loss, train_kobj_loss, train_cls_loss, train_dfl_loss,
          precision_b, recall_b, precision_p, recall_p,
          val_box_loss, val_pose_loss, val_kobj_loss, val_cls_loss, val_dfl_loss,
          map50_b, map50_95_b, map50_p, map50_95_p]

fig, ax = plt.subplots(2, 9, figsize=(21, 6), tight_layout=True)
ax = ax.ravel()
for i, (t, y) in enumerate(zip(titles, series)):
    x = np.arange(len(y))
    ax[i].plot(x, y, marker=".", label="results", linewidth=2, markersize=8)
    ax[i].set_title(t, fontsize=12)
ax[0].yaxis.set_major_locator(MultipleLocator(1))
ax[1].legend()
fig.savefig("out.png", dpi=200)
plt.close()
